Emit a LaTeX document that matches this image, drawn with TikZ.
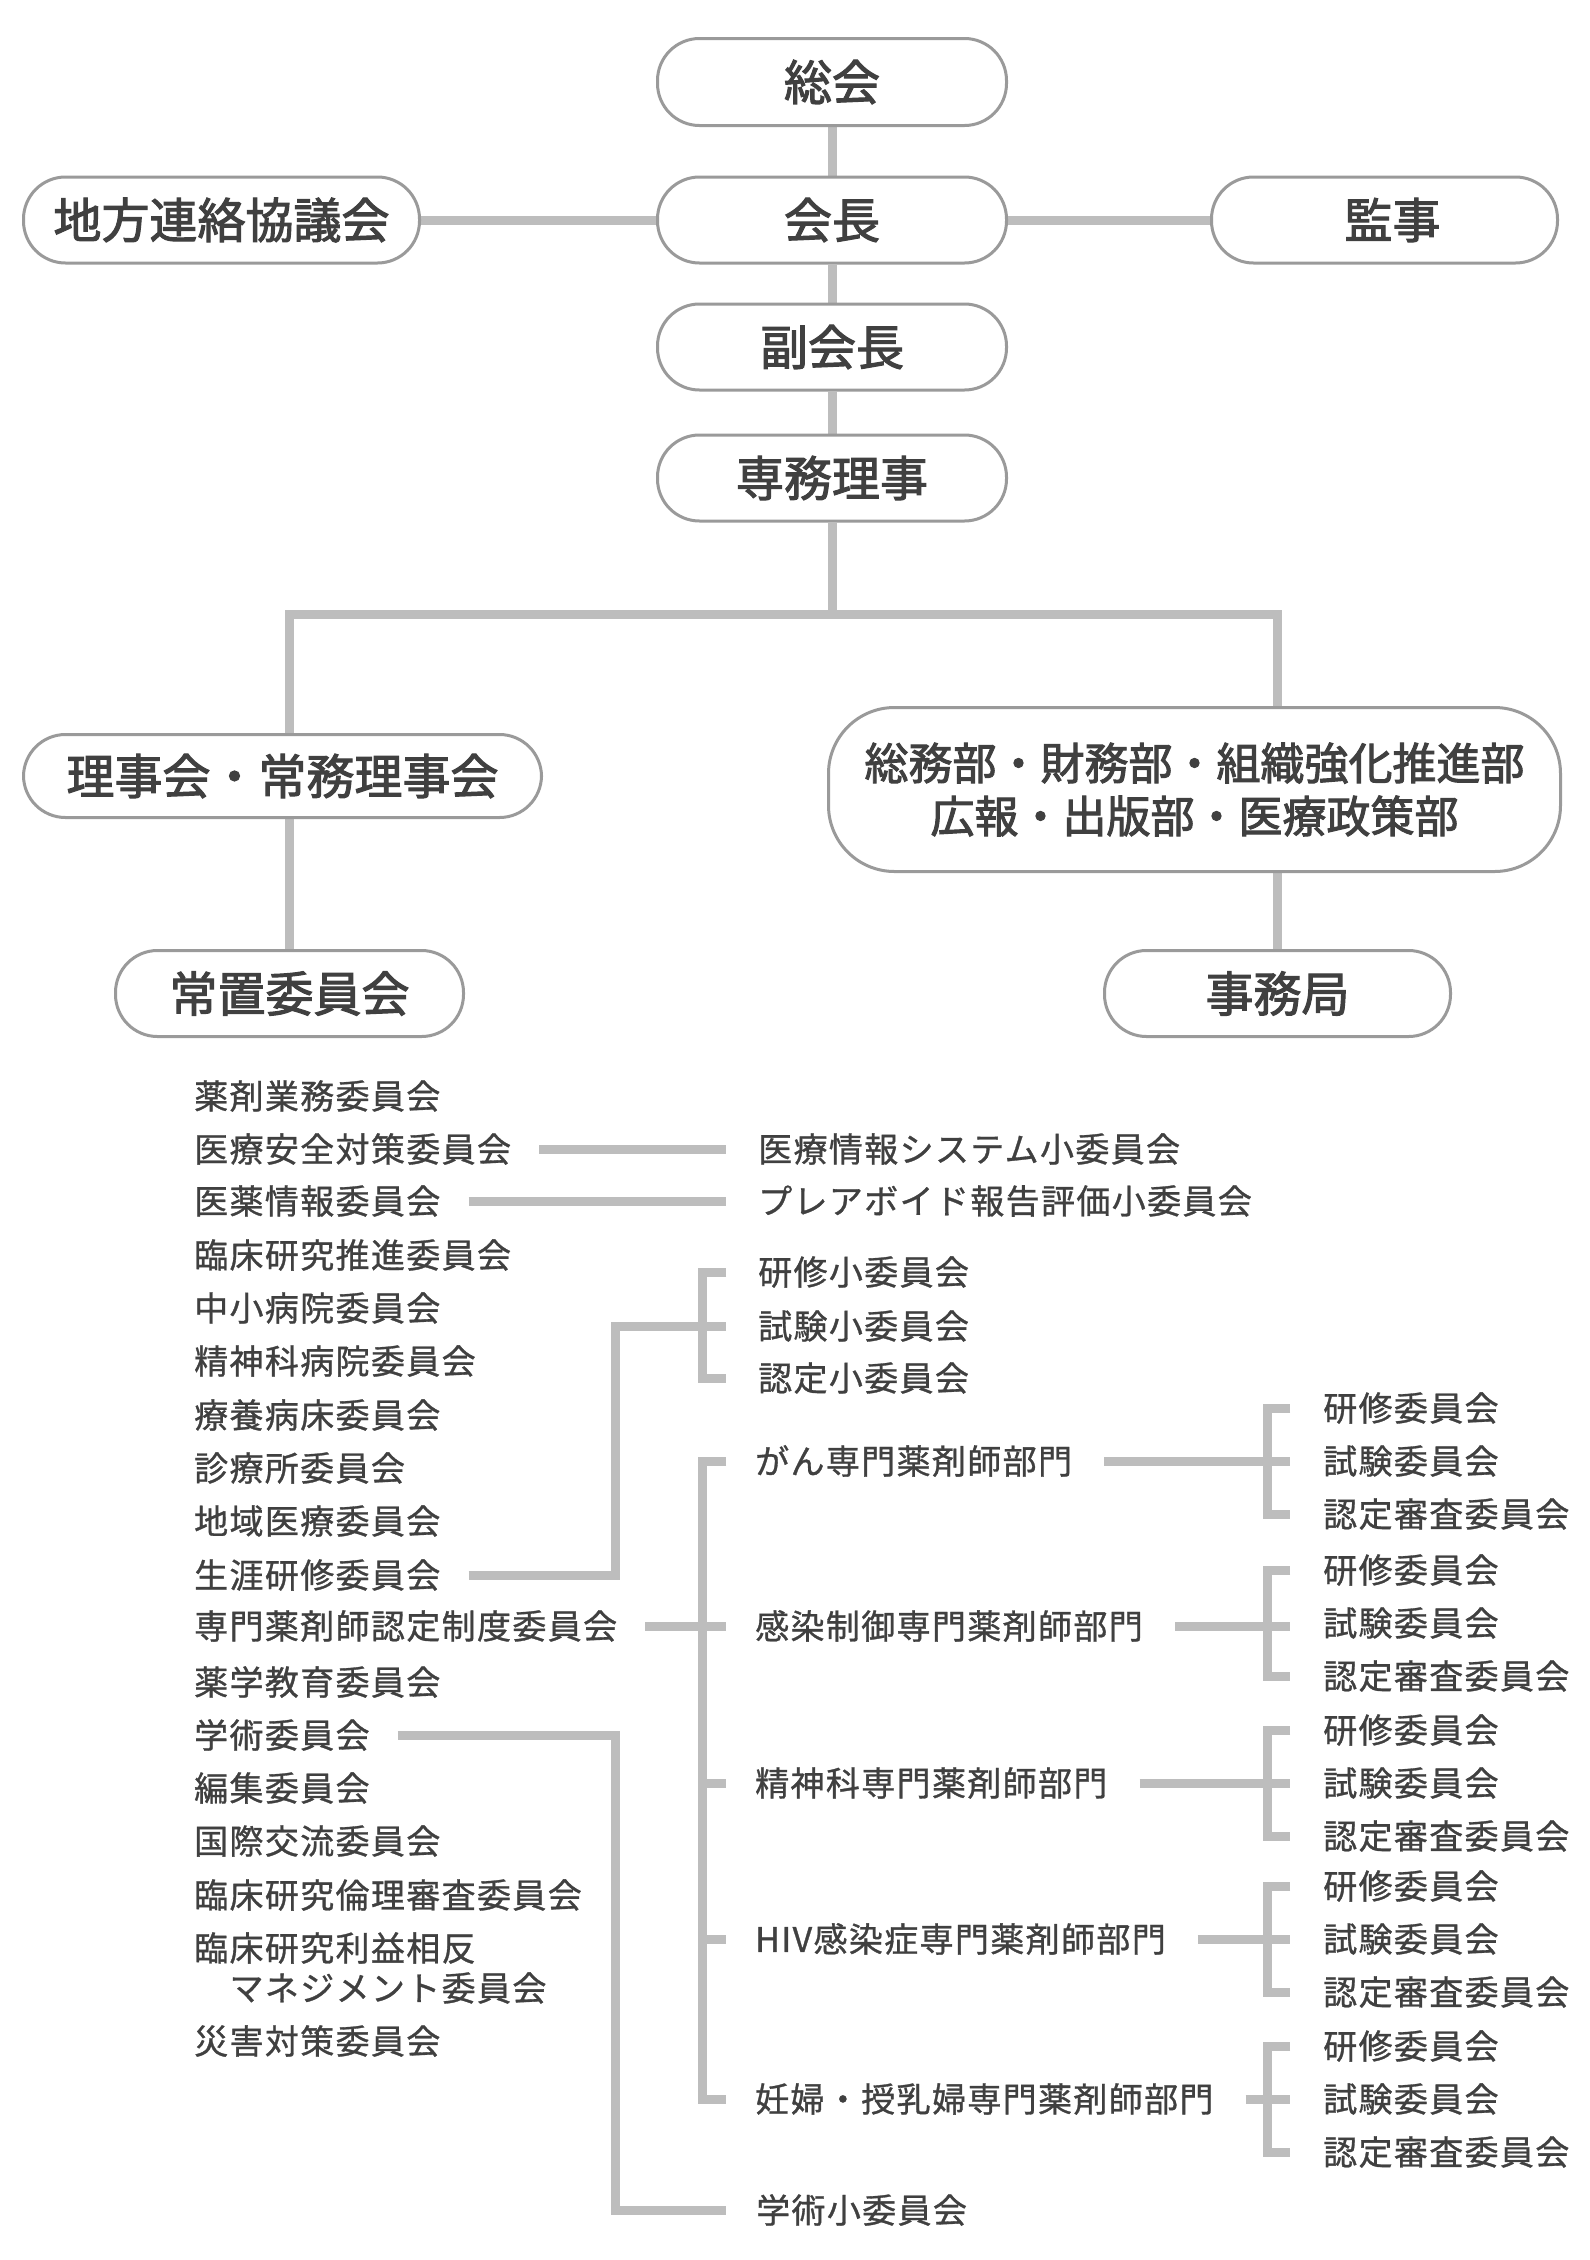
\documentclass[tikz,border=0pt]{standalone}
\usepackage{fontspec}
\usetikzlibrary{backgrounds}
\newfontfamily\jpfont[FakeBold=2.2]{Noto Sans CJK JP}
\newfontfamily\listjp[LetterSpace=4,FakeBold=0.9]{Noto Sans CJK JP}
\definecolor{boxline}{HTML}{9A9A9A}
\definecolor{connline}{HTML}{BDBDBD}
\definecolor{ink}{HTML}{404040}
\begin{document}
\begin{tikzpicture}[x=1pt,y=-1pt,
  box/.style={draw=boxline, line width=3pt, fill=white, rounded corners=42pt,
    inner sep=0pt, minimum height=86pt, text=ink,
    font=\jpfont\fontsize{48}{56}\selectfont},
  item/.style={anchor=west, inner sep=0pt, text=ink,
    font=\listjp\fontsize{34}{40}\selectfont},
  conn/.style={draw=connline, line width=9pt}]
\useasboundingbox (0,0) rectangle (1590,2260);

% --- boxes ---
\node[box, minimum width=349pt, minimum height=87pt] (sokai) at (832,82) {総会};
\node[box, minimum width=349pt] (kaicho) at (832,220) {会長};
\node[box, minimum width=396pt] (chiho) at (221.5,220) {地方連絡協議会};
\node[box, minimum width=346pt] (kanji) at (1384.5,220) {\hspace*{16pt}監事};
\node[box, minimum width=349pt] (fuku) at (832,347) {副会長};
\node[box, minimum width=349pt] (senmu) at (832,478) {専務理事};
\node[box, minimum width=518pt, minimum height=83pt] (riji) at (282.5,776) {理事会・常務理事会};
\node[box, minimum width=732pt, minimum height=164pt, rounded corners=66pt, align=center,
  font=\jpfont\fontsize{44}{53}\selectfont] (bu) at (1194.5,789.5)
  {総務部・財務部・組織強化推進部\\広報・出版部・医療政策部};
\node[box, minimum width=348pt] (josetsu) at (289.5,993.5) {常置委員会};
\node[box, minimum width=346pt] (jimu) at (1277.5,993.5) {事務局};

% --- left list ---
\node[item] (l1) at (194,1096) {薬剤業務委員会};
\node[item] (l2) at (194,1149) {医療安全対策委員会};
\node[item] (l3) at (194,1201) {医薬情報委員会};
\node[item] (l4) at (194,1255) {臨床研究推進委員会};
\node[item] (l5) at (194,1308) {中小病院委員会};
\node[item] (l6) at (194,1361) {精神科病院委員会};
\node[item] (l7) at (194,1415) {療養病床委員会};
\node[item] (l8) at (194,1468) {診療所委員会};
\node[item] (l9) at (194,1521) {地域医療委員会};
\node[item] (l10) at (194,1575) {生涯研修委員会};
\node[item] (l11) at (194,1626) {専門薬剤師認定制度委員会};
\node[item] (l12) at (194,1682) {薬学教育委員会};
\node[item] (l13) at (194,1735) {学術委員会};
\node[item] (l14) at (194,1788) {編集委員会};
\node[item] (l15) at (194,1841) {国際交流委員会};
\node[item] (l16) at (194,1895) {臨床研究倫理審査委員会};
\node[item] (l17) at (194,1948) {臨床研究利益相反};
\node[item] (l17b) at (194,1988) {　マネジメント委員会};
\node[item] (l18) at (194,2041) {災害対策委員会};

% --- middle column ---
\node[item] (m1) at (758,1149) {医療情報システム小委員会};
\node[item] (m2) at (758,1201) {プレアボイド報告評価小委員会};
\node[item] (s1) at (758,1272) {研修小委員会};
\node[item] (s2) at (758,1326) {試験小委員会};
\node[item] (s3) at (758,1378) {認定小委員会};
\node[item] (d1) at (755,1461) {がん専門薬剤師部門};
\node[item] (d2) at (755,1626) {感染制御専門薬剤師部門};
\node[item] (d3) at (755,1783) {精神科専門薬剤師部門};
\node[item] (d4) at (755,1939) {HIV感染症専門薬剤師部門};
\node[item] (d5) at (755,2099) {妊婦・授乳婦専門薬剤師部門};
\node[item] (g1) at (756,2210) {学術小委員会};

% --- right column ---
\foreach \i/\y in {1/1461,2/1623,3/1783,4/1939,5/2099}{
  \node[item] (r\i1) at (1323,\y-53) {研修委員会};
  \node[item] (r\i2) at (1323,\y) {試験委員会};
  \node[item] (r\i3) at (1323,\y+53) {認定審査委員会};
}

\coordinate (j) at (832,614);
\coordinate (lv) at (615,0);
\coordinate (mv) at (702,0);
\coordinate (mb) at (726,0);
\coordinate (rv) at (1267,0);
\coordinate (rb) at (1290,0);

\begin{scope}[on background layer]
\fill[white] (0,0) rectangle (1590,2260);
\draw[conn] (sokai.south) -- (kaicho.north);
\draw[conn] (kaicho.south) -- (fuku.north);
\draw[conn] (fuku.south) -- (senmu.north);
\draw[conn] (chiho.east) -- (kaicho.west);
\draw[conn] (kaicho.east) -- (kanji.west);
\draw[conn] (senmu.south) -- (j);
\draw[conn] (josetsu.north |- riji.north) |- (j);
\draw[conn] (jimu.north |- bu.north) |- (j);
\draw[conn] (josetsu.north |- riji.south) -- (josetsu.north);
\draw[conn] (jimu.north |- bu.south) -- (jimu.north);

\draw[conn] ([xshift=28pt]l2.east) -- (m1.west -| mb);
\draw[conn] ([xshift=28pt]l3.east) -- (m2.west -| mb);
\draw[conn] (s1.west -| mb) -| (s3.west -| mv) -- (s3.west -| mb);
\draw[conn] ([xshift=28pt]l10.east) -| (s2.west -| lv) -- (s2.west -| mb);
\draw[conn] ([xshift=28pt]l11.east) -- (l11.east -| mv);
\draw[conn] (d1.west -| mb) -| (d5.west -| mv) -- (d5.west -| mb);
\foreach \n in {d2,d3,d4} \draw[conn] (\n.west -| mv) -- (\n.west -| mb);
\draw[conn] ([xshift=28pt]l13.east) -| (g1.west -| lv) -- (g1.west -| mb);
\foreach \i in {1,...,5}{
  \draw[conn] ([xshift=32pt]d\i.east) -- (d\i.east -| rb);
  \draw[conn] (r\i1.west -| rb) -| (r\i3.west -| rv) -- (r\i3.west -| rb);
}
\end{scope}
\end{tikzpicture}
\end{document}
